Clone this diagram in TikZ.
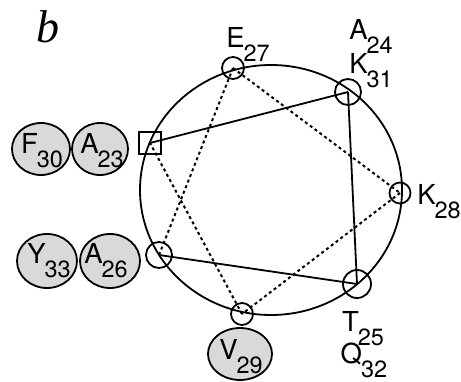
\documentclass[tikz,border=0pt]{standalone}
\usepackage{fontspec}
\setmainfont{TeX Gyre Heros}
\newfontfamily\bfam{Liberation Serif}
\usetikzlibrary{shapes.geometric}
\newcommand\resl[2]{{\fontsize{27.5}{27.5}\selectfont #1}\kern-1pt\raisebox{-14pt}{\fontsize{23.5}{23.5}\selectfont #2}}
\tikzset{
  blob/.style={ellipse, draw, line width=1.8pt, fill=gray!30, inner sep=0pt},
  txt/.style={inner sep=0pt, anchor=center},
  wpos/.style={circle, draw, line width=1.8pt, inner sep=0pt},
  sq/.style={rectangle, draw, line width=1.8pt, inner sep=0pt, minimum size=22pt},
  solidl/.style={line width=1.8pt},
  dotl/.style={line width=2pt, dash pattern=on 3pt off 3pt}
}
\begin{document}
\begin{tikzpicture}[x=1pt,y=-1pt]
\useasboundingbox (0,0) rectangle (461,382);
% wheel
\draw[line width=1.8pt] (271,190) ellipse [x radius=131, y radius=125];
% positions
\node[sq] (n23) at (150,143) {};
\node[wpos, minimum size=26pt] (n24) at (348,92) {};
\node[wpos, minimum size=28pt] (n25) at (357,284) {};
\node[wpos, minimum size=26pt] (n26) at (159,255) {};
\node[wpos, minimum size=22pt] (n27) at (233,68) {};
\node[wpos, minimum size=21pt] (n28) at (400,193) {};
\node[wpos, minimum size=22pt] (n29) at (242,314) {};
% connectors
\draw[solidl] (n23.center) -- (n24.center);
\draw[solidl] (n24.center) -- (n25.center);
\draw[solidl] (n25.center) -- (n26.center);
\draw[dotl] (n26.center) -- (n27.center);
\draw[dotl] (n27.center) -- (n28.center);
\draw[dotl] (n28.center) -- (n29.center);
\draw[dotl] (n29.center) -- (n23.center);
% shaded residues
\node[blob, minimum width=58pt, minimum height=52pt] (f30) at (41,149) {};
\node[txt] (f30t) at (42,151) {\resl{F}{30}};
\node[blob, minimum width=56pt, minimum height=52pt] (a23) at (100,149) {};
\node[txt] (a23t) at (102,151) {\resl{A}{23}};
\node[blob, minimum width=60pt, minimum height=54pt] (y33) at (47,261) {};
\node[txt] (y33t) at (49,261) {\resl{Y}{33}};
\node[blob, minimum width=60pt, minimum height=54pt] (a26) at (110,261) {};
\node[txt] (a26t) at (106,261) {\resl{A}{26}};
\node[blob, minimum width=64pt, minimum height=52pt] (v29) at (240,354) {};
\node[txt] (v29t) at (241,357) {\resl{V}{29}};
% outer labels
\node[txt] (e27) at (248,44) {\resl{E}{27}};
\node[txt] (a24) at (371,36) {\resl{A}{24}};
\node[txt] (k31) at (371,71) {\resl{K}{31}};
\node[txt] (k28) at (439,202) {\resl{K}{28}};
\node[txt] (t25) at (363,329) {\resl{T}{25}};
\node[txt] (q32) at (364,360) {\resl{Q}{32}};
% panel letter
\node[txt] (pb) at (48,27) {\bfam\itshape\fontsize{46}{46}\selectfont b};
\end{tikzpicture}
\end{document}
